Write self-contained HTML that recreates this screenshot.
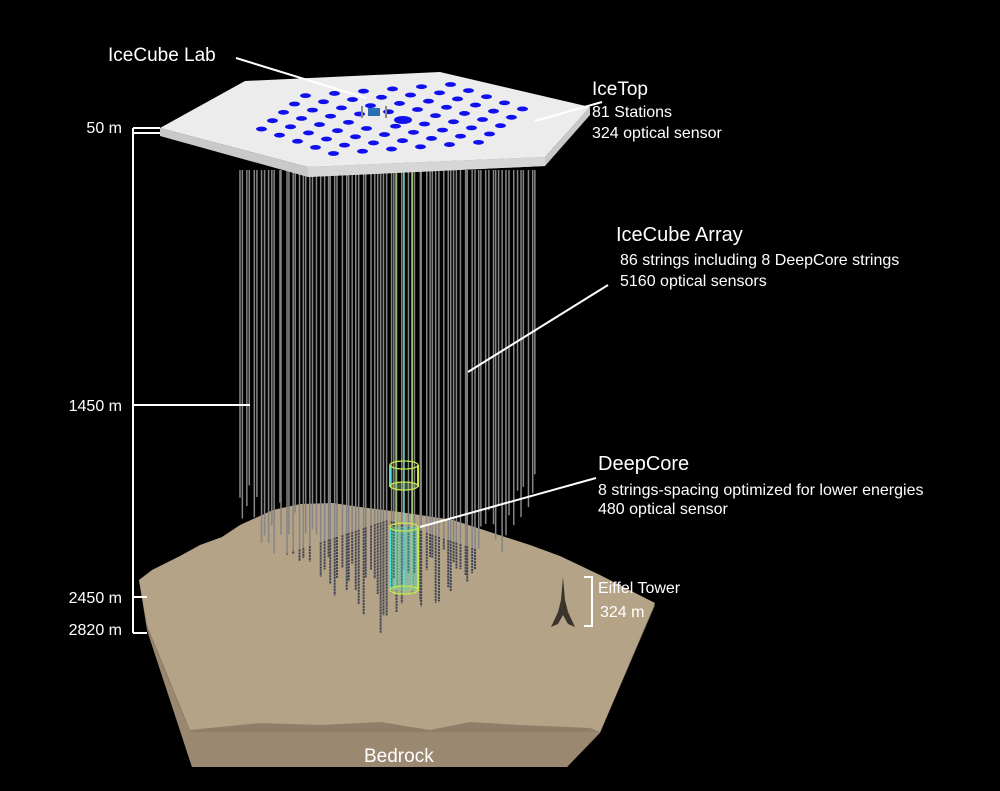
<!DOCTYPE html>
<html><head><meta charset="utf-8"><style>
html,body{margin:0;padding:0;background:#000;}
svg{display:block;font-family:"Liberation Sans",sans-serif;}
</style></head><body>
<svg id="s" width="1000" height="791" viewBox="0 0 1000 791" xmlns="http://www.w3.org/2000/svg">
<rect width="1000" height="791" fill="#000"/>
<!-- ground -->
<polygon points="139,580 147,630 192,767 567,767 600,733 655,605" fill="#8f7e68"/>
<polygon points="147,630 190,732 600,732 567,767 192,767" fill="#9a8870"/>
<polygon points="139,580 152,570 180,556 200,545 222,537 240,525 273,510 300,504 333,503 360,507 400,512 453,520 493,533 530,545 560,556 600,575 655,603 600,732 590,728 520,725 470,722 430,730 380,722 320,725 260,723 190,730 147,625" fill="#b5a388"/>
<g id="strings"></g>
<!-- DeepCore -->
<g stroke-width="1.3" fill="none">
<line x1="396" y1="170" x2="396" y2="590" stroke="#9fdc6a"/>
<line x1="404" y1="170" x2="404" y2="595" stroke="#6fe0d0"/>
<line x1="412" y1="170" x2="412" y2="590" stroke="#b7e66a"/>
<line x1="390" y1="465" x2="390" y2="487" stroke="#48e0d0" stroke-width="2"/>
<line x1="418" y1="465" x2="418" y2="487" stroke="#c8e84a" stroke-width="2"/>
<ellipse cx="404" cy="465" rx="14" ry="4" stroke="#c8e84a"/>
<ellipse cx="404" cy="486" rx="14" ry="4" stroke="#c8e84a" fill="#9fc88a" fill-opacity=".4"/>
<rect x="390" y="527" width="28" height="63" fill="#40e0d0" fill-opacity=".35" stroke="none"/>
<line x1="390" y1="527" x2="390" y2="590" stroke="#48e0d0" stroke-width="2"/>
<line x1="418" y1="527" x2="418" y2="590" stroke="#c8e84a" stroke-width="2"/>
<ellipse cx="404" cy="527" rx="14" ry="4" stroke="#c8e84a"/>
<ellipse cx="404" cy="590" rx="14" ry="4" stroke="#c8e84a" fill="#9fc88a" fill-opacity=".5"/>
</g>
<!-- hexagon -->
<polygon points="160,128 160,136 308,177 545,166 590,115 590,107 545,157 308,167" fill="#c9c9c9"/>
<polygon points="308,167 308,177 545,166 545,157" fill="#d6d6d6"/>
<polygon points="160,128 245,81 440,72 590,107 545,157 308,167" fill="#ececec"/>
<g id="dots" fill="#1010ee"></g>
<ellipse cx="403" cy="120" rx="9" ry="4" fill="#1010ee"/>
<rect x="368" y="108" width="12" height="8" fill="#2a6fb0"/>
<line x1="362" y1="106" x2="362" y2="118" stroke="#888" stroke-width="2"/>
<line x1="386" y1="106" x2="386" y2="118" stroke="#888" stroke-width="2"/>
<!-- leader lines -->
<g stroke="#fff" stroke-width="2" fill="none">
<line x1="236" y1="58" x2="366" y2="98"/>
<line x1="602" y1="102" x2="535" y2="121"/>
<line x1="608" y1="285" x2="468" y2="372"/>
<line x1="596" y1="478" x2="420" y2="527"/>
<polyline points="133,128 160,128"/><polyline points="133,133 160,133"/>
<line x1="133" y1="128" x2="133" y2="633"/>
<line x1="133" y1="405" x2="250" y2="405"/>
<line x1="133" y1="597" x2="147" y2="597"/>
<line x1="133" y1="633" x2="147" y2="633"/>
<polyline points="584,577 592,577 592,626 584,626"/>
</g>
<!-- eiffel -->
<path d="M563,577 L565,600 L568,612 L575,627 L568,624 L563,615 L558,624 L551,627 L558,612 L561,600 Z" fill="#3a342c"/>
<g fill="#fff">
<text x="108" y="61" font-size="19">IceCube Lab</text>
<text x="592" y="95" font-size="19">IceTop</text>
<text x="592" y="117" font-size="16">81 Stations</text>
<text x="592" y="138" font-size="16">324 optical sensor</text>
<text x="616" y="241" font-size="20">IceCube Array</text>
<text x="620" y="265" font-size="16">86 strings including 8 DeepCore strings</text>
<text x="620" y="286" font-size="16">5160 optical sensors</text>
<text x="598" y="470" font-size="20">DeepCore</text>
<text x="598" y="495" font-size="16">8 strings-spacing optimized for lower energies</text>
<text x="598" y="514" font-size="16">480 optical sensor</text>
<text x="598" y="593" font-size="16">Eiffel Tower</text>
<text x="600" y="617" font-size="16">324 m</text>
<text x="364" y="762" font-size="19">Bedrock</text>
<g font-size="16" text-anchor="end">
<text x="122" y="133">50 m</text>
<text x="122" y="411">1450 m</text>
<text x="122" y="603">2450 m</text>
<text x="122" y="635">2820 m</text>
</g>
</g>
</svg>
<script>
(function(){
var ns="http://www.w3.org/2000/svg";
var g=document.getElementById("strings");
var seed=7;function r(){seed=(seed*9301+49297)%233280;return seed/233280;}
var N=85;
for(var i=0;i<N;i++){
 var x=240+ (i/(N-1))*295 + (r()-0.5)*3;
 var c=(x-388)/150; var bot=640-Math.abs(c)*110 - r()*60;
 var l=document.createElementNS(ns,"line");
 l.setAttribute("x1",x);l.setAttribute("x2",x);l.setAttribute("y1",170);l.setAttribute("y2",bot);
 l.setAttribute("stroke","#858585");l.setAttribute("stroke-width","1.5");g.appendChild(l);
 var gy=Math.max(505,520+Math.abs(c)*50);
 if(bot>gy){var d=document.createElementNS(ns,"line");
 d.setAttribute("x1",x);d.setAttribute("x2",x);d.setAttribute("y1",gy);d.setAttribute("y2",bot);
 d.setAttribute("stroke","#45454d");d.setAttribute("stroke-width","2");d.setAttribute("stroke-dasharray","2 1");g.appendChild(d);}
}
var dg=document.getElementById("dots");
for(var b=-4;b<=4;b++){
 var n=10-Math.abs(b);
 var cx=392+b*3.5;
 for(var k=0;k<n;k++){
  var a=k-(n-1)/2;
  if(b==0&&Math.abs(a)<0.6)continue;
  var x=cx+a*29, y=119+b*7.5-(x-392)*0.077;
  var e=document.createElementNS(ns,"ellipse");
  e.setAttribute("cx",x);e.setAttribute("cy",y);e.setAttribute("rx",5.5);e.setAttribute("ry",2.4);dg.appendChild(e);
 }
}
})();
</script>
</body></html>
